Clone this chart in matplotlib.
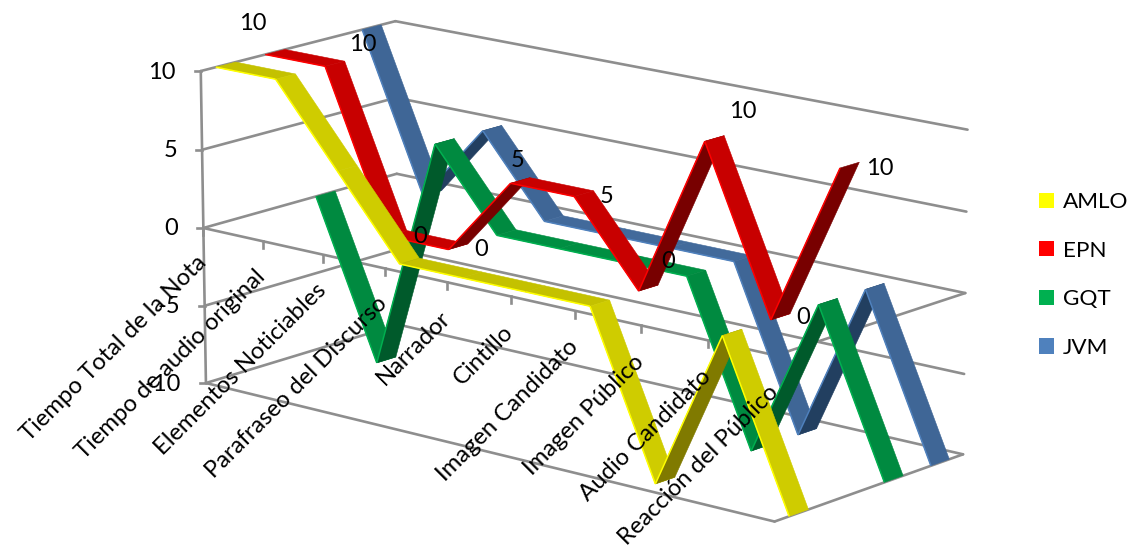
import numpy as np
import matplotlib
matplotlib.use("Agg")
import matplotlib.pyplot as plt
from matplotlib.patches import Polygon, Patch

plt.rcParams['font.family'] = ['Lato', 'DejaVu Sans']

# Chart data
categories = ["Tiempo Total de la Nota", "Tiempo de audio original",
              "Elementos Noticiables", "Parafraseo del Discurso", "Narrador",
              "Cintillo", "Imagen Candidato", "Imagen Público",
              "Audio Candidato", "Reacción del Público"]
series_names = ["AMLO", "EPN", "GQT", "JVM"]
amlo = [10, 10, 5, 0, 0, 0, 0, -10, 0, -10]
epn = [10, 10, 0, 0, 5, 5, 0, 10, 0, 10]
gqt = [0, -10, 5, 0, 0, 0, 0, -10, 0, -10]
jvm = [10, 0, 5, 0, 0, 0, 0, -10, 0, -10]
value_ticks = [10, 5, 0, -5, -10]
value_tick_labels = ["10", "5", "0", "-5", "-10"]

# Ribbon shades per series: legend swatch / front edge, falling, level, rising
shades = {
    "AMLO": ("#FFFF00", "#CFCC00", "#C4C100", "#807A00"),
    "EPN": ("#FF0000", "#C80000", "#C80000", "#780000"),
    "GQT": ("#00B050", "#008A40", "#008F42", "#005A2B"),
    "JVM": ("#4F81BD", "#3F6696", "#426A9B", "#223F60"),
}
GRID = "#8E8E8E"
RIBBON_HALF_WIDTH = 0.05
TEXT_SIZE = 17

# Pixel offsets of the EPN value labels from their points
epn_label_offsets = [(-22, -28), (28, -19), (23, 3), (23, 3), (-3, -20),
                     (23, 3), (20, -27), (28, -27), (23, 1), (30, 3)]

# Camera of the 3D box: (category 0-1, depth 0-1, value) -> figure pixels
box_points = np.array([(0, 0, 10), (0, 0, 0), (0, 0, -10), (1, 0, 0), (1, 0, -10),
                       (0, 1, 10), (0, 1, 0), (1, 1, 10), (1, 1, 0), (1, 1, -10)], float)
box_pixels = np.array([(200.7, 71), (204, 228), (205.5, 383), (775, 355), (775, 522),
                       (395, 21), (397, 174), (968, 130), (965, 293), (963, 454)], float)


def fit_camera(world, image):
    rows = []
    for (a, b, c), (px, py) in zip(world, image):
        h = [a, b, c, 1]
        rows.append(h + [0, 0, 0, 0] + [-px * t for t in h])
        rows.append([0, 0, 0, 0] + h + [-py * t for t in h])
    return np.linalg.svd(np.array(rows))[2][-1].reshape(3, 4)


CAMERA = fit_camera(box_points, box_pixels)


def project(u, d, v):
    p = CAMERA @ np.array([u, d, v, 1.0])
    return p[0] / p[2], p[1] / p[2]


fig = plt.figure(figsize=(11.3, 5.5), dpi=100)
ax = fig.add_axes([0, 0, 1, 1])
ax.set_xlim(0, 1130)
ax.set_ylim(550, 0)
ax.axis("off")


def box_line(a, b, z=1):
    pa, pb = project(*a), project(*b)
    ax.plot([pa[0], pb[0]], [pa[1], pb[1]], color=GRID, lw=1.9,
            solid_capstyle="round", zorder=z)


# Walls, floor and the category axis
for v in value_ticks:
    box_line((0, 0, v), (0, 1, v))
    box_line((0, 1, v), (1, 1, v))
    x, y = project(0, 0, v)
    ax.plot([x - 6, x], [y, y], color=GRID, lw=1.9, zorder=1)
    ax.text(x - 25, y + 1, value_tick_labels[value_ticks.index(v)], ha="right",
            va="center", fontsize=TEXT_SIZE, color="black", zorder=8)
box_line((0, 0, 10), (0, 0, -10))
for v in (0, -10):
    box_line((0, 0, v), (1, 0, v))
    box_line((1, 0, v), (1, 1, v))

n = len(categories)
for i, label in enumerate(categories):
    u = i / (n - 1)
    x, y = project(u, 0, 0)
    ax.plot([x, x], [y, y + 7], color=GRID, lw=1.9, zorder=1)
    ax.text(x - 8, y + 24 + 2 * u, label, rotation=45, rotation_mode="anchor",
            ha="right", va="top", fontsize=17.2, color="black", zorder=8)

# Ribbons, back to front; later segments cover earlier ones at folds
all_values = [amlo, epn, gqt, jvm]
for s in range(len(series_names) - 1, -1, -1):
    name, values = series_names[s], all_values[s]
    edge, falling, level, rising = shades[name]
    d = (s + 0.5) / len(series_names)
    for i in range(n - 1):
        u0, u1 = i / (n - 1), (i + 1) / (n - 1)
        v0, v1 = values[i], values[i + 1]
        face = rising if v1 > v0 else falling if v1 < v0 else level
        quad = [project(u0, d - RIBBON_HALF_WIDTH, v0), project(u0, d + RIBBON_HALF_WIDTH, v0),
                project(u1, d + RIBBON_HALF_WIDTH, v1), project(u1, d - RIBBON_HALF_WIDTH, v1)]
        ax.add_patch(Polygon(quad, closed=True, facecolor=face, edgecolor=face,
                             lw=0.4, zorder=3 + (3 - s)))
        ax.plot([quad[0][0], quad[3][0]], [quad[0][1], quad[3][1]], color=edge,
                lw=1.1, solid_capstyle="butt", zorder=3 + (3 - s))

# Value labels of the EPN series
d_epn = 1.5 / len(series_names)
for i, v in enumerate(epn):
    x, y = project(i / (n - 1), d_epn, v)
    dx, dy = epn_label_offsets[i]
    ax.text(x + dx, y + dy, f"{v}", ha="center", va="center",
            fontsize=TEXT_SIZE, color="black", zorder=9)

handles = [Patch(facecolor=shades[nm][0], edgecolor="none") for nm in series_names]
ax.legend(handles, series_names, loc="center left", bbox_to_anchor=(1037 / 1130, 1 - 275 / 550),
          frameon=False, fontsize=16.2, handlelength=0.66, handleheight=0.66,
          handletextpad=0.38, labelspacing=1.27, borderpad=0.1, borderaxespad=0)

fig.savefig("out.png", dpi=100, facecolor="white")
